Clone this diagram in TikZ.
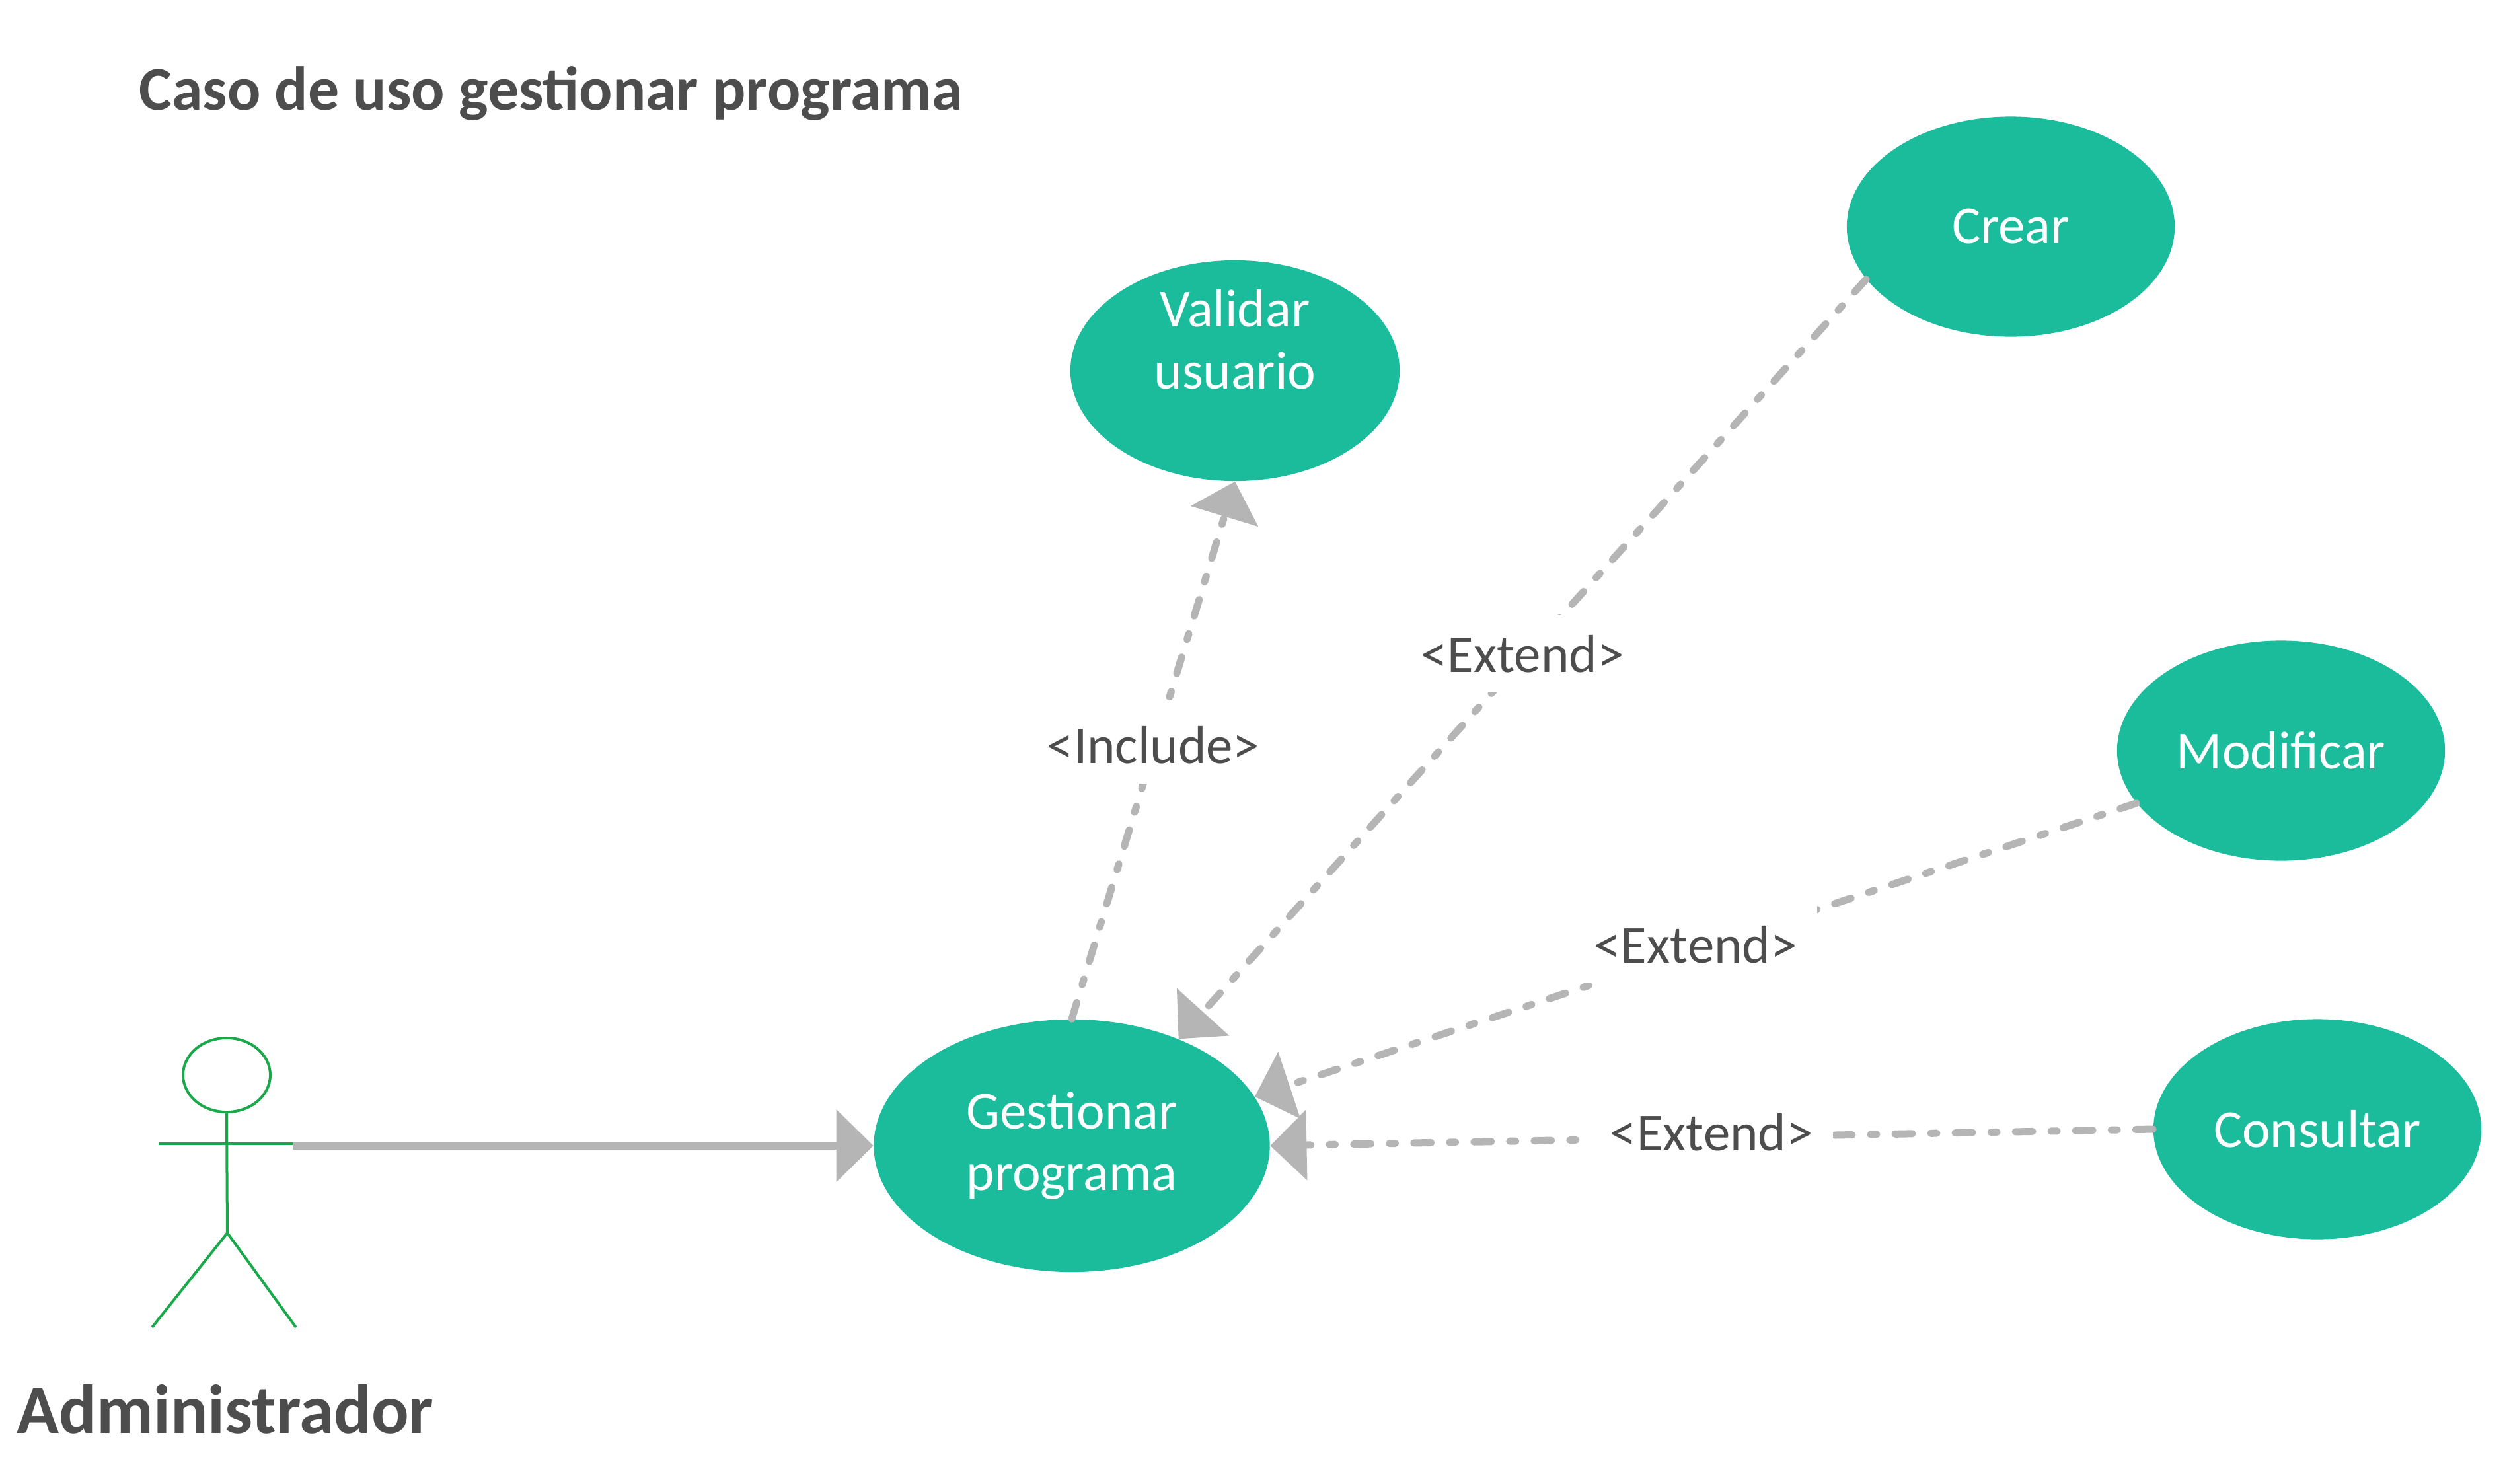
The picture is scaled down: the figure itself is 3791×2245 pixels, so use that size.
\documentclass[tikz,border=0pt]{standalone}
\usepackage{fontspec}
\setmainfont{Carlito}
\usetikzlibrary{shapes.geometric,arrows.meta}
\definecolor{teal}{HTML}{1ABC9C}
\definecolor{lgray}{HTML}{B5B5B5}
\definecolor{dtext}{HTML}{4D4D4D}
\definecolor{actorgreen}{HTML}{19A84A}
\tikzset{
  usecase/.style={ellipse, fill=teal, draw=none, inner sep=0pt, text=white,
    align=center, font=\fontsize{23}{26.7}\selectfont},
  lbl/.style={fill=white, text=dtext, inner sep=0.3cm, yshift=0.08cm, font=\fontsize{23}{26.7}\selectfont},
  dep/.style={draw=lgray, line width=0.11cm, line cap=round,
    dash pattern=on 0.26cm off 0.28cm on 0.09cm off 0.28cm,
    -{Triangle[length=0.55cm, width=1.07cm, fill=lgray, line width=0pt]}},
  actorline/.style={draw=actorgreen, line width=0.04cm},
}
\begin{document}
\begin{tikzpicture}[x=0.01cm, y=-0.01cm]
\useasboundingbox (0,0) rectangle (3791,2245);
% title
\node[anchor=base west, inner sep=0pt, text=dtext, font=\fontsize{26.7}{32}\selectfont\bfseries] (title) at (210,166) {Caso de uso gestionar programa};
% use cases
\node[usecase, minimum width=5.99cm, minimum height=3.82cm] (ges) at (1622,1734) {Gestionar\\programa};
\node[usecase, minimum width=4.98cm, minimum height=3.34cm] (val) at (1869,561) {};
\node[text=white, align=center, inner sep=0pt, font=\fontsize{23}{26.7}\selectfont] (valtxt) at (1869,514) {Validar\\usuario};
\node[usecase, minimum width=4.96cm, minimum height=3.33cm] (crear) at (3043,343) {Crear};
\node[usecase, minimum width=4.96cm, minimum height=3.33cm] (mod) at (3452,1136) {Modificar};
\node[usecase, minimum width=4.96cm, minimum height=3.33cm] (cons) at (3507,1709) {Consultar};
% actor
\node[ellipse, draw=actorgreen, line width=0.04cm, minimum width=1.32cm, minimum height=1.12cm, inner sep=0pt] (head) at (343,1627) {};
\coordinate (armL) at (240,1731);
\coordinate (armR) at (443,1731);
\coordinate (hip) at (344,1866);
\coordinate (footL) at (230,2009);
\coordinate (footR) at (448,2009);
\draw[actorline] (head.south) -- (hip);
\draw[actorline] (armL) -- (armR);
\draw[actorline] (footL) -- (hip) -- (footR);
\node[text=dtext, inner sep=0pt, font=\fontsize{30}{36}\selectfont\bfseries] (admin) at (341,2133) {Administrador};
% association
\coordinate (assocstart) at (443,1734);
\draw[lgray, line width=0.12cm, -{Triangle[length=0.56cm, width=1.1cm, line width=0pt]}] (assocstart) -- (ges.west);
% dependencies
\draw[dep] (ges.north) -- node[lbl] (linc) {<Include>} (val.south);
\draw[dep] (crear.200) -- node[lbl] (lext1) {<Extend>} (ges.45);
\draw[dep] (mod.200) -- node[lbl] (lext2) {<Extend>} (ges.15);
\draw[dep] (cons.west) -- node[lbl] (lext3) {<Extend>} (ges.east);
\end{tikzpicture}
\end{document}
